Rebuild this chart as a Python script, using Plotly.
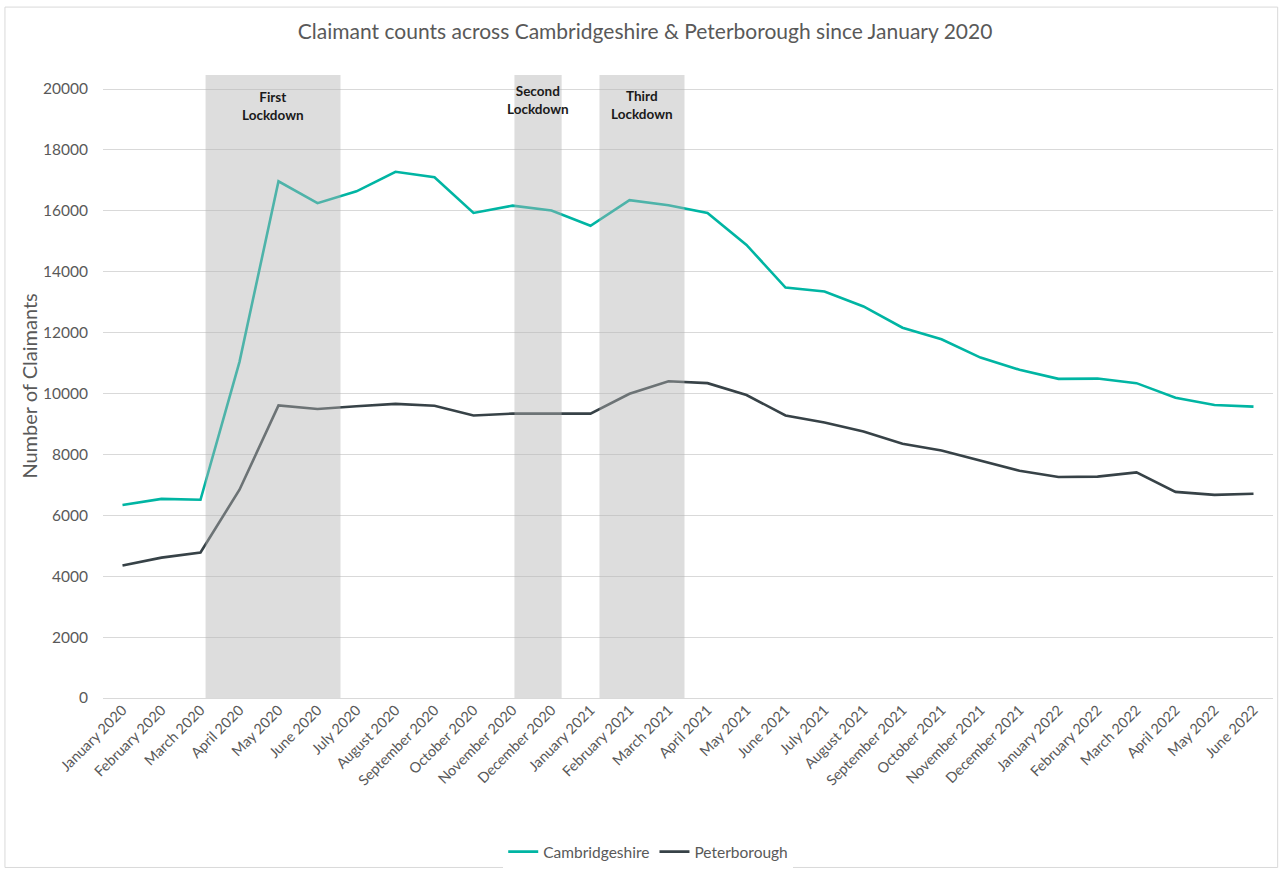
import plotly.graph_objects as go

months = ["January 2020", "February 2020", "March 2020", "April 2020", "May 2020", "June 2020",
          "July 2020", "August 2020", "September 2020", "October 2020", "November 2020", "December 2020",
          "January 2021", "February 2021", "March 2021", "April 2021", "May 2021", "June 2021",
          "July 2021", "August 2021", "September 2021", "October 2021", "November 2021", "December 2021",
          "January 2022", "February 2022", "March 2022", "April 2022", "May 2022", "June 2022"]

cambridgeshire = [6340, 6540, 6510, 11040, 16970, 16250, 16640, 17280, 17100, 15930, 16170, 16010,
                  15510, 16350, 16180, 15930, 14880, 13480, 13350, 12860, 12160, 11780, 11180, 10780,
                  10480, 10490, 10340, 9860, 9620, 9570]

peterborough = [4350, 4610, 4780, 6840, 9610, 9490, 9580, 9660, 9600, 9280, 9340, 9340,
                9340, 9990, 10400, 10340, 9950, 9280, 9050, 8750, 8350, 8130, 7800, 7460,
                7260, 7270, 7410, 6770, 6670, 6710]

lockdown_labels = ["First<br>Lockdown", "Second<br>Lockdown", "Third<br>Lockdown"]
lockdown_start = [2.13, 10.05, 12.23]
lockdown_end = [5.59, 11.26, 14.41]
lockdown_top = [20460, 20460, 20500]

y_ticks = list(range(0, 20001, 2000))
y_tick_text = [str(v) for v in y_ticks]

FONT = "Lato, 'Open Sans', sans-serif"
GREY = "#595959"

fig = go.Figure()
fig.add_trace(go.Scatter(x=months, y=cambridgeshire, mode="lines", name="Cambridgeshire",
                         line=dict(color="#00b5a3", width=2.6)))
fig.add_trace(go.Scatter(x=months, y=peterborough, mode="lines", name="Peterborough",
                         line=dict(color="#374247", width=2.6)))

shapes = []
annotations = []
label_y = [19430, 19640, 19480]
for s, e, t, lab, ly in zip(lockdown_start, lockdown_end, lockdown_top, lockdown_labels, label_y):
    shapes.append(dict(type="rect", xref="x", yref="y", x0=s, x1=e, y0=0, y1=t,
                       fillcolor="rgba(178,178,178,0.44)", line=dict(width=0), layer="above"))
    annotations.append(dict(x=(s + e) / 2, y=ly, xref="x", yref="y", text="<b>" + lab + "</b>",
                            showarrow=False, font=dict(family=FONT, size=13.5, color="#1a1a1a"),
                            align="center"))

# chart border
shapes.append(dict(type="rect", xref="paper", yref="paper", x0=-0.0838, x1=1.004, y0=-0.272, y1=1.109,
                   line=dict(color="#d9d9d9", width=1), fillcolor="rgba(0,0,0,0)", layer="below"))

annotations.append(dict(text="Number of Claimants", xref="paper", yref="paper", x=-0.064, y=0.5,
                        textangle=-90, showarrow=False, xanchor="center", yanchor="middle",
                        font=dict(family=FONT, size=20, color=GREY)))

fig.update_layout(
    width=1280, height=869,
    margin=dict(l=103, r=7, t=75, b=171),
    paper_bgcolor="white", plot_bgcolor="white",
    title=dict(text="Claimant counts across Cambridgeshire & Peterborough since January 2020",
               x=0.504, xref="container", xanchor="center", y=1 - 32 / 869, yanchor="middle",
               font=dict(family=FONT, size=21, color=GREY)),
    xaxis=dict(type="category", range=[-0.5, 29.5], tickangle=-45, showgrid=False,
               tickfont=dict(family=FONT, size=14.5, color=GREY), ticks="", showline=False,
               zeroline=False, automargin=False),
    yaxis=dict(range=[0, 20460], tickvals=y_ticks, ticktext=y_tick_text, gridcolor="#d9d9d9",
               gridwidth=1, zeroline=True, zerolinecolor="#d9d9d9", zerolinewidth=1,
               tickfont=dict(family=FONT, size=15.5, color=GREY), ticks="", showline=False,
               ticklabelstandoff=14, automargin=False),
    legend=dict(orientation="h", x=0.466, xanchor="center", yref="container", y=1 - 852 / 869,
                yanchor="middle", font=dict(family=FONT, size=15.5, color=GREY), itemwidth=30,
                tracegroupgap=0),
    shapes=shapes,
    annotations=annotations,
)

fig.write_html("out.html", config={"displayModeBar": False},
               post_script="document.body.style.margin='0';document.body.style.overflow='hidden';")
